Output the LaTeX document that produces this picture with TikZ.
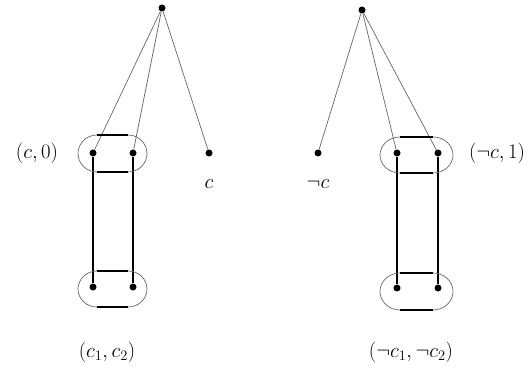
\documentclass[tikz,border=0pt]{standalone}
\begin{document}
\begin{tikzpicture}[x=1pt,y=-1pt,
  dot/.style={circle,fill=black,inner sep=0pt,minimum size=7pt},
  treeline/.style={draw=black!60,line width=0.7pt},
  thick line/.style={draw=black,line width=1.4pt},
  arcline/.style={draw=black!60,line width=0.7pt},
  lbl/.style={font=\huge,inner sep=0pt}]
\useasboundingbox (0,0) rectangle (530,374);
% left tree
\node[dot] (L) at (162,8) {};
\node[dot] (a1) at (93,153) {};
\node[dot] (a2) at (133,153) {};
\node[dot] (c) at (209,153) {};
\node[dot] (b1) at (93,287) {};
\node[dot] (b2) at (133,287) {};
\draw[treeline] (L) -- (a1);
\draw[treeline] (L) -- (a2);
\draw[treeline] (L) -- (c);
\draw[thick line] (a1) -- (b1);
\draw[thick line] (a2) -- (b2);
% left ovals
\draw[thick line] (97,135) -- (128,135);
\draw[thick line] (97,172) -- (128,172);
\draw[arcline] (97,135) arc[start angle=-90,end angle=-270,x radius=19,y radius=18.5];
\draw[arcline] (128,135) arc[start angle=-90,end angle=90,x radius=19,y radius=18.5];
\draw[thick line] (97,271) -- (128,271);
\draw[thick line] (97,307) -- (128,307);
\draw[arcline] (97,271) arc[start angle=-90,end angle=-270,x radius=19,y radius=18];
\draw[arcline] (128,271) arc[start angle=-90,end angle=90,x radius=19,y radius=18];
\node[lbl] (lc0) at (37,153) {$(c,0)$};
\node[lbl] (lc) at (209,184) {$c$};
\node[lbl] (lc12) at (107,352) {$(c_1,c_2)$};
% right tree
\node[dot] (R) at (362,10) {};
\node[dot] (nc) at (318,153) {};
\node[dot] (d1) at (397,153) {};
\node[dot] (d2) at (438,153) {};
\node[dot] (e1) at (397,288) {};
\node[dot] (e2) at (438,288) {};
\draw[treeline] (R) -- (nc);
\draw[treeline] (R) -- (d1);
\draw[treeline] (R) -- (d2);
\draw[thick line] (d1) -- (e1);
\draw[thick line] (d2) -- (e2);
% right ovals
\draw[thick line] (400,137) -- (433,137);
\draw[thick line] (400,173) -- (433,173);
\draw[arcline] (400,137) arc[start angle=-90,end angle=-270,x radius=20,y radius=18];
\draw[arcline] (433,137) arc[start angle=-90,end angle=90,x radius=20,y radius=18];
\draw[thick line] (400,273) -- (433,273);
\draw[thick line] (400,310) -- (433,310);
\draw[arcline] (400,273) arc[start angle=-90,end angle=-270,x radius=20,y radius=18.5];
\draw[arcline] (433,273) arc[start angle=-90,end angle=90,x radius=20,y radius=18.5];
\node[lbl] (rnc1) at (497,153) {$(\neg c,1)$};
\node[lbl] (rnc) at (318,184) {$\neg c$};
\node[lbl] (rnc12) at (411,352) {$(\neg c_1,\neg c_2)$};
\end{tikzpicture}
\end{document}
